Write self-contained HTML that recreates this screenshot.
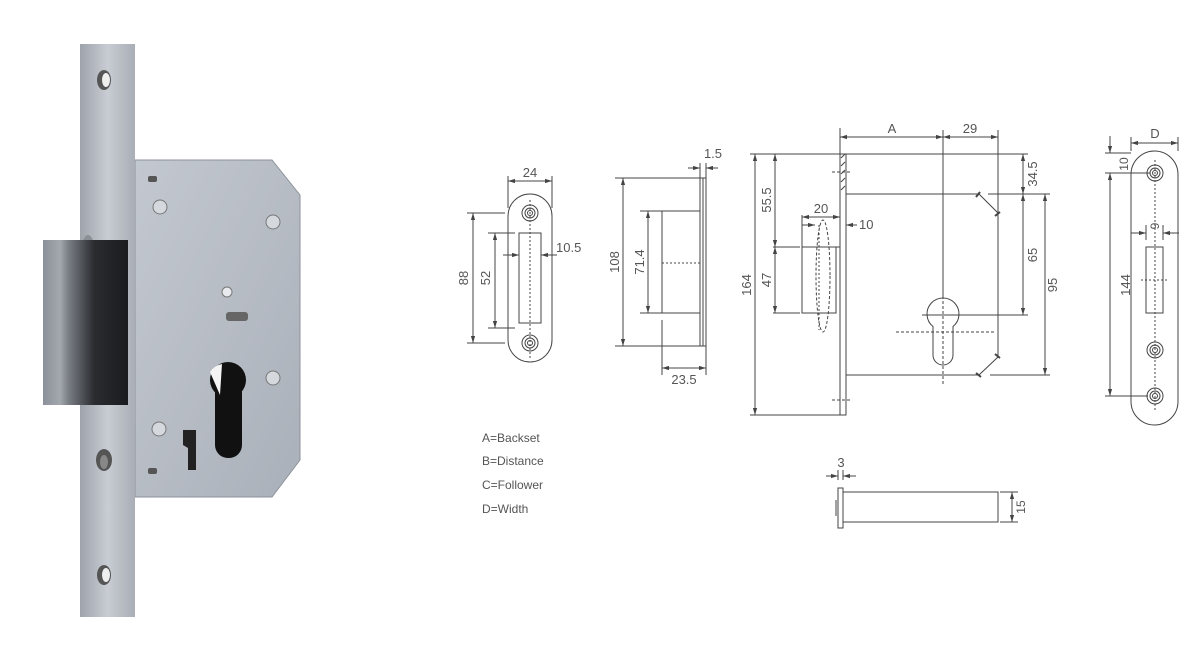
<!DOCTYPE html>
<html><head><meta charset="utf-8"><style>
html,body{margin:0;padding:0;background:#fff;}
svg{display:block;}
text{font-family:"Liberation Sans",sans-serif;fill:#555;}
</style></head><body>
<svg width="1197" height="650" viewBox="0 0 1197 650" xmlns="http://www.w3.org/2000/svg">
<defs>
<linearGradient id="fp" x1="0" x2="1"><stop offset="0" stop-color="#9ea3ab"/><stop offset="0.5" stop-color="#c8ccd3"/><stop offset="1" stop-color="#a9aeb6"/></linearGradient>
<linearGradient id="bd" x1="0" x2="1" y1="0" y2="1"><stop offset="0" stop-color="#c3c8d0"/><stop offset="1" stop-color="#aab0b9"/></linearGradient>
<linearGradient id="bl" x1="0" x2="1"><stop offset="0" stop-color="#8c9199"/><stop offset="0.2" stop-color="#a3a8af"/><stop offset="0.3" stop-color="#7a7e85"/><stop offset="0.6" stop-color="#2a2c30"/><stop offset="1" stop-color="#1a1b1e"/></linearGradient>
<marker id="ar" viewBox="0 0 10 10" refX="10" refY="5" markerWidth="7" markerHeight="7" orient="auto-start-reverse"><path d="M0,2 L10,5 L0,8 z" fill="#444"/></marker>
</defs>

<!-- PHOTO -->
<path d="M135,160 L272,160 L300,195 L300,460 L272,497 L135,497 Z" fill="url(#bd)" stroke="#8c929b"/>
<rect x="80" y="44" width="55" height="573" fill="url(#fp)"/>
<ellipse cx="88" cy="295" rx="12" ry="60" fill="#8a8e95"/>
<rect x="43" y="240" width="85" height="165" fill="url(#bl)"/>
<ellipse cx="104" cy="80" rx="7" ry="10" fill="#555"/><ellipse cx="106" cy="80" rx="4" ry="7" fill="#eee"/>
<ellipse cx="104" cy="460" rx="8" ry="11" fill="#555"/><ellipse cx="104" cy="462" rx="4" ry="7" fill="#888"/>
<ellipse cx="104" cy="575" rx="7" ry="10" fill="#555"/><ellipse cx="106" cy="575" rx="4" ry="7" fill="#eee"/>
<circle cx="160" cy="207" r="7" fill="#d5d8dd" stroke="#777"/><circle cx="273" cy="222" r="7" fill="#d5d8dd" stroke="#777"/>
<circle cx="273" cy="378" r="7" fill="#d5d8dd" stroke="#777"/><circle cx="159" cy="429" r="7" fill="#d5d8dd" stroke="#777"/>
<rect x="148" y="176" width="9" height="6" rx="2" fill="#555"/><rect x="148" y="468" width="9" height="6" rx="2" fill="#555"/>
<circle cx="227" cy="292" r="5" fill="#e8eaee" stroke="#777"/>
<rect x="226" y="312" width="22" height="9" rx="3" fill="#666"/>
<circle cx="228" cy="380" r="18" fill="#111"/>
<rect x="215" y="380" width="27" height="78" rx="13" fill="#111"/>
<path d="M210,372 A18,18 0 0 1 222,364 L220,395 Z" fill="#f4f4f4"/>
<path d="M183,430 L196,430 L196,470 L188,470 L188,448 L183,445 Z" fill="#222"/>

<!-- STRIKER FRONT -->
<g fill="none" stroke="#444" stroke-width="1">
<rect x="508" y="194" width="44" height="168" rx="22"/>
<circle cx="530" cy="213" r="8"/><circle cx="530" cy="213" r="5"/><circle cx="530" cy="213" r="2.5"/>
<circle cx="530" cy="343" r="8"/><circle cx="530" cy="343" r="5"/><circle cx="530" cy="343" r="2.5"/>
<rect x="519" y="233" width="22" height="90"/>
<line x1="530" y1="200" x2="530" y2="358" stroke-dasharray="2,2"/>
<line x1="508" y1="176" x2="508" y2="208"/><line x1="552" y1="176" x2="552" y2="208"/>
<line x1="508" y1="181" x2="552" y2="181" marker-start="url(#ar)" marker-end="url(#ar)"/>
<line x1="467" y1="213" x2="505" y2="213"/><line x1="467" y1="343" x2="505" y2="343"/>
<line x1="473" y1="213" x2="473" y2="343" marker-start="url(#ar)" marker-end="url(#ar)"/>
<line x1="488" y1="233" x2="515" y2="233"/><line x1="488" y1="328" x2="515" y2="328"/>
<line x1="495" y1="233" x2="495" y2="328" marker-start="url(#ar)" marker-end="url(#ar)"/>
<line x1="503" y1="255" x2="519" y2="255" marker-end="url(#ar)"/>
<line x1="557" y1="255" x2="541" y2="255" marker-end="url(#ar)"/>
</g>
<text x="530" y="177" font-size="13" text-anchor="middle">24</text>
<text x="556" y="252" font-size="13">10.5</text>
<text x="468" y="278" font-size="13" text-anchor="middle" transform="rotate(-90 468 278)">88</text>
<text x="490" y="278" font-size="13" text-anchor="middle" transform="rotate(-90 490 278)">52</text>

<!-- STRIKER SIDE -->
<g fill="none" stroke="#444" stroke-width="1">
<rect x="700" y="178" width="6" height="168"/><line x1="703" y1="178" x2="703" y2="346"/>
<rect x="662" y="211" width="38" height="102"/>
<line x1="662" y1="263" x2="700" y2="263" stroke-dasharray="2,2"/>
<line x1="615" y1="178" x2="700" y2="178"/><line x1="615" y1="346" x2="700" y2="346"/>
<line x1="623" y1="178" x2="623" y2="346" marker-start="url(#ar)" marker-end="url(#ar)"/>
<line x1="640" y1="211" x2="662" y2="211"/><line x1="640" y1="313" x2="662" y2="313"/>
<line x1="648" y1="211" x2="648" y2="313" marker-start="url(#ar)" marker-end="url(#ar)"/>
<line x1="662" y1="320" x2="662" y2="375"/><line x1="706" y1="346" x2="706" y2="375"/>
<line x1="662" y1="368" x2="706" y2="368" marker-start="url(#ar)" marker-end="url(#ar)"/>
<line x1="700" y1="163" x2="700" y2="178"/><line x1="706" y1="163" x2="706" y2="178"/>
<line x1="688" y1="168" x2="700" y2="168" marker-end="url(#ar)"/><line x1="718" y1="168" x2="706" y2="168" marker-end="url(#ar)"/>
</g>
<text x="713" y="158" font-size="13" text-anchor="middle">1.5</text>
<text x="684" y="384" font-size="13" text-anchor="middle">23.5</text>
<text x="619" y="262" font-size="13" text-anchor="middle" transform="rotate(-90 619 262)">108</text>
<text x="644" y="262" font-size="13" text-anchor="middle" transform="rotate(-90 644 262)">71.4</text>

<!-- MAIN BODY -->
<g fill="none" stroke="#444" stroke-width="1">
<rect x="840" y="154" width="6" height="261"/>
<path d="M846,194 L979,194 L998,213 L998,357 L979,375 L846,375"/>
<line x1="841" y1="158" x2="845" y2="154"/><line x1="841" y1="166" x2="845" y2="162"/><line x1="841" y1="174" x2="845" y2="170"/><line x1="841" y1="182" x2="845" y2="178"/><line x1="841" y1="190" x2="845" y2="186"/>
<line x1="832" y1="172" x2="850" y2="172" stroke-dasharray="3,2"/><line x1="832" y1="400" x2="850" y2="400" stroke-dasharray="3,2"/>
<line x1="840" y1="128" x2="840" y2="154"/><line x1="998" y1="130" x2="998" y2="213"/>
<line x1="840" y1="137" x2="943" y2="137" marker-start="url(#ar)" marker-end="url(#ar)"/>
<line x1="943" y1="137" x2="998" y2="137" marker-start="url(#ar)" marker-end="url(#ar)"/>
<line x1="943" y1="130" x2="943" y2="296"/>
<path d="M933,326.5 A16,16 0 1 1 953,326.5 L953,355 A10,10 0 0 1 933,355 Z"/>
<line x1="943" y1="296" x2="943" y2="386" stroke-dasharray="3,2"/>
<line x1="896" y1="332" x2="995" y2="332" stroke-dasharray="3,2"/>
<line x1="922" y1="315" x2="1028" y2="315"/>
<line x1="750" y1="154" x2="1028" y2="154"/><line x1="750" y1="415" x2="840" y2="415"/>
<line x1="755" y1="154" x2="755" y2="415" marker-start="url(#ar)" marker-end="url(#ar)"/>
<line x1="775" y1="154" x2="775" y2="247" marker-start="url(#ar)" marker-end="url(#ar)"/>
<line x1="775" y1="247" x2="775" y2="313" marker-start="url(#ar)" marker-end="url(#ar)"/>
<line x1="773" y1="247" x2="800" y2="247"/><line x1="773" y1="313" x2="800" y2="313"/>
<rect x="802" y="247" width="34" height="66"/><line x1="836" y1="247" x2="840" y2="247"/>
<ellipse cx="823" cy="276" rx="7" ry="56" stroke-dasharray="3,2"/>
<line x1="819" y1="225" x2="819" y2="330" stroke-dasharray="2,2"/>
<line x1="802" y1="215" x2="802" y2="247"/>
<line x1="802" y1="217" x2="840" y2="217" marker-start="url(#ar)" marker-end="url(#ar)"/>
<line x1="802" y1="225" x2="815" y2="225" marker-end="url(#ar)"/>
<line x1="857" y1="225" x2="846" y2="225" marker-end="url(#ar)"/>
<line x1="988" y1="194" x2="1050" y2="194"/><line x1="990" y1="375" x2="1050" y2="375"/>
<line x1="1023" y1="154" x2="1023" y2="194" marker-start="url(#ar)" marker-end="url(#ar)"/>
<line x1="1023" y1="194" x2="1023" y2="315" marker-start="url(#ar)" marker-end="url(#ar)"/>
<line x1="1045" y1="194" x2="1045" y2="375" marker-start="url(#ar)" marker-end="url(#ar)"/>
</g>
<g stroke="#444" stroke-width="2"><line x1="976" y1="197" x2="980" y2="192"/><line x1="995" y1="216" x2="1000" y2="212"/><line x1="976" y1="373" x2="981" y2="377"/><line x1="995" y1="354" x2="1000" y2="358"/></g>
<text x="892" y="133" font-size="13" text-anchor="middle">A</text>
<text x="970" y="133" font-size="13" text-anchor="middle">29</text>
<text x="821" y="213" font-size="13" text-anchor="middle">20</text>
<text x="859" y="229" font-size="13">10</text>
<text x="751" y="285" font-size="13" text-anchor="middle" transform="rotate(-90 751 285)">164</text>
<text x="771" y="200" font-size="13" text-anchor="middle" transform="rotate(-90 771 200)">55.5</text>
<text x="771" y="280" font-size="13" text-anchor="middle" transform="rotate(-90 771 280)">47</text>
<text x="1037" y="174" font-size="13" text-anchor="middle" transform="rotate(-90 1037 174)">34.5</text>
<text x="1037" y="255" font-size="13" text-anchor="middle" transform="rotate(-90 1037 255)">65</text>
<text x="1057" y="285" font-size="13" text-anchor="middle" transform="rotate(-90 1057 285)">95</text>

<!-- RIGHT FACEPLATE -->
<g fill="none" stroke="#444" stroke-width="1">
<rect x="1131" y="151" width="47" height="274" rx="23.5"/>
<circle cx="1155" cy="173" r="8"/><circle cx="1155" cy="173" r="5"/><circle cx="1155" cy="173" r="2.5"/>
<circle cx="1155" cy="350" r="8"/><circle cx="1155" cy="350" r="5"/><circle cx="1155" cy="350" r="2.5"/>
<circle cx="1155" cy="396" r="8"/><circle cx="1155" cy="396" r="5"/><circle cx="1155" cy="396" r="2.5"/>
<rect x="1146" y="247" width="17" height="66"/>
<line x1="1155" y1="160" x2="1155" y2="412" stroke-dasharray="2,2"/>
<line x1="1141" y1="280" x2="1167" y2="280" stroke-dasharray="2,2"/>
<line x1="1131" y1="137" x2="1131" y2="151"/><line x1="1178" y1="137" x2="1178" y2="151"/>
<line x1="1131" y1="143" x2="1178" y2="143" marker-start="url(#ar)" marker-end="url(#ar)"/>
<line x1="1105" y1="153" x2="1131" y2="153"/><line x1="1105" y1="173" x2="1150" y2="173"/><line x1="1105" y1="396" x2="1148" y2="396"/>
<line x1="1110" y1="136" x2="1110" y2="153" marker-end="url(#ar)"/>
<line x1="1110" y1="173" x2="1110" y2="396" marker-start="url(#ar)" marker-end="url(#ar)"/>
<line x1="1146" y1="225" x2="1146" y2="240"/><line x1="1163" y1="225" x2="1163" y2="240"/>
<line x1="1131" y1="233" x2="1146" y2="233" marker-end="url(#ar)"/>
<line x1="1179" y1="233" x2="1163" y2="233" marker-end="url(#ar)"/>
</g>
<text x="1155" y="138" font-size="13" text-anchor="middle">D</text>
<text x="1128" y="164" font-size="12" text-anchor="middle" transform="rotate(-90 1128 164)">10</text>
<text x="1130" y="285" font-size="13" text-anchor="middle" transform="rotate(-90 1130 285)">144</text>
<text x="1155" y="230" font-size="12" text-anchor="middle" transform="rotate(-90 1155 226)">9</text>

<!-- FOLLOWER -->
<g fill="none" stroke="#444" stroke-width="1">
<rect x="838" y="488" width="5" height="40"/>
<rect x="843" y="492" width="155" height="30"/>
<line x1="836" y1="500" x2="836" y2="516"/>
<line x1="838" y1="470" x2="838" y2="480"/><line x1="843" y1="470" x2="843" y2="480"/>
<line x1="826" y1="476" x2="838" y2="476" marker-end="url(#ar)"/>
<line x1="856" y1="476" x2="843" y2="476" marker-end="url(#ar)"/>
<line x1="1000" y1="492" x2="1018" y2="492"/><line x1="1000" y1="522" x2="1018" y2="522"/>
<line x1="1012" y1="492" x2="1012" y2="522" marker-start="url(#ar)" marker-end="url(#ar)"/>
</g>
<text x="841" y="467" font-size="13" text-anchor="middle">3</text>
<text x="1025" y="507" font-size="12" text-anchor="middle" transform="rotate(-90 1025 507)">15</text>

<!-- LEGEND -->
<g font-size="12">
<text x="482" y="442">A=Backset</text>
<text x="482" y="465">B=Distance</text>
<text x="482" y="489">C=Follower</text>
<text x="482" y="513">D=Width</text>
</g>
</svg>
</body></html>
